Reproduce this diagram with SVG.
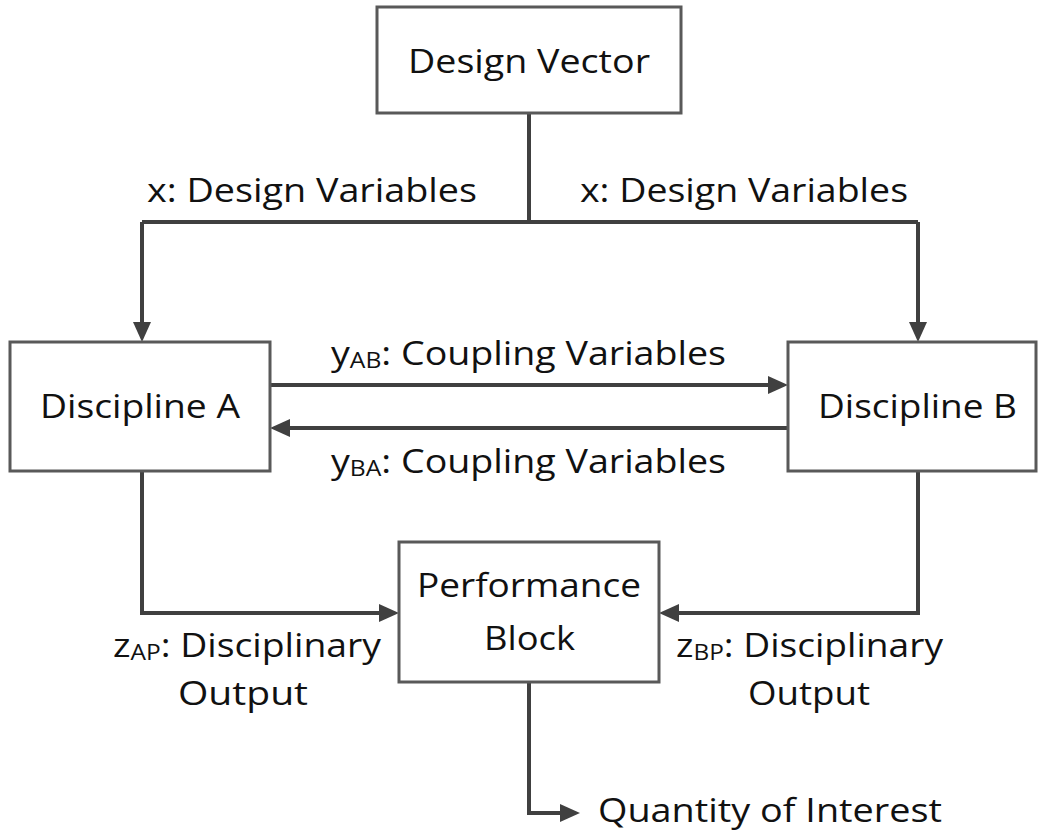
<svg xmlns="http://www.w3.org/2000/svg" width="1039" height="835" viewBox="0 0 1039 835">
  <style>
    .box { fill: #ffffff; stroke: #595959; stroke-width: 3; }
    .wire { fill: none; stroke: #404040; stroke-width: 4; stroke-linejoin: miter; }
    .lbl { font-family: "Open Sans", "Noto Sans", sans-serif; font-size: 32px; fill: #111111; }
    .sub { font-size: 21px; }
  </style>
  <defs>
    <marker id="head" viewBox="0 0 20 18" refX="8" refY="9" markerWidth="20" markerHeight="18" markerUnits="userSpaceOnUse" orient="auto">
      <path d="M0,0 L20,9 L0,18 Z" fill="#404040"/>
    </marker>
  </defs>
  <rect width="1039" height="835" fill="#ffffff"/>

  <!-- connectors -->
  <g id="connectors">
    <path class="wire" d="M529,113 V222"/>
    <path class="wire" d="M142,222 H918"/>
    <path class="wire" d="M142,222 V330" marker-end="url(#head)"/>
    <path class="wire" d="M918,222 V330" marker-end="url(#head)"/>
    <path class="wire" d="M270,385 H776" marker-end="url(#head)"/>
    <path class="wire" d="M788,428 H282" marker-end="url(#head)"/>
    <path class="wire" d="M142,471 V613 H387" marker-end="url(#head)"/>
    <path class="wire" d="M918,471 V613 H671" marker-end="url(#head)"/>
    <path class="wire" d="M529,682 V813 H568" marker-end="url(#head)"/>

    <text class="lbl" x="147" y="202" textLength="330" lengthAdjust="spacingAndGlyphs">x: Design Variables</text>
    <text class="lbl" x="580" y="202" textLength="328" lengthAdjust="spacingAndGlyphs">x: Design Variables</text>
    <text class="lbl" x="331" y="365" textLength="395" lengthAdjust="spacingAndGlyphs">y<tspan class="sub" dy="3">AB</tspan><tspan dy="-3">: Coupling Variables</tspan></text>
    <text class="lbl" x="331" y="473" textLength="395" lengthAdjust="spacingAndGlyphs">y<tspan class="sub" dy="3">BA</tspan><tspan dy="-3">: Coupling Variables</tspan></text>
    <text class="lbl" x="113" y="657" textLength="268" lengthAdjust="spacingAndGlyphs">z<tspan class="sub" dy="3">AP</tspan><tspan dy="-3">: Disciplinary</tspan></text>
    <text class="lbl" x="178" y="705" textLength="130" lengthAdjust="spacingAndGlyphs">Output</text>
    <text class="lbl" x="676" y="657" textLength="267" lengthAdjust="spacingAndGlyphs">z<tspan class="sub" dy="3">BP</tspan><tspan dy="-3">: Disciplinary</tspan></text>
    <text class="lbl" x="748" y="705" textLength="122" lengthAdjust="spacingAndGlyphs">Output</text>
    <text class="lbl" x="598" y="822" textLength="344" lengthAdjust="spacingAndGlyphs">Quantity of Interest</text>
  </g>

  <!-- nodes -->
  <g id="design-vector">
    <rect class="box" x="377" y="7" width="304" height="106"/>
    <text class="lbl" x="408" y="73" textLength="242" lengthAdjust="spacingAndGlyphs">Design Vector</text>
  </g>
  <g id="discipline-a">
    <rect class="box" x="10" y="342" width="260" height="129"/>
    <text class="lbl" x="40" y="418" textLength="200" lengthAdjust="spacingAndGlyphs">Discipline A</text>
  </g>
  <g id="discipline-b">
    <rect class="box" x="788" y="342" width="248" height="129"/>
    <text class="lbl" x="818" y="418" textLength="199" lengthAdjust="spacingAndGlyphs">Discipline B</text>
  </g>
  <g id="performance-block">
    <rect class="box" x="399" y="542" width="260" height="140"/>
    <text class="lbl" x="417" y="597" textLength="224" lengthAdjust="spacingAndGlyphs">Performance</text>
    <text class="lbl" x="484" y="650" textLength="91" lengthAdjust="spacingAndGlyphs">Block</text>
  </g>
</svg>
